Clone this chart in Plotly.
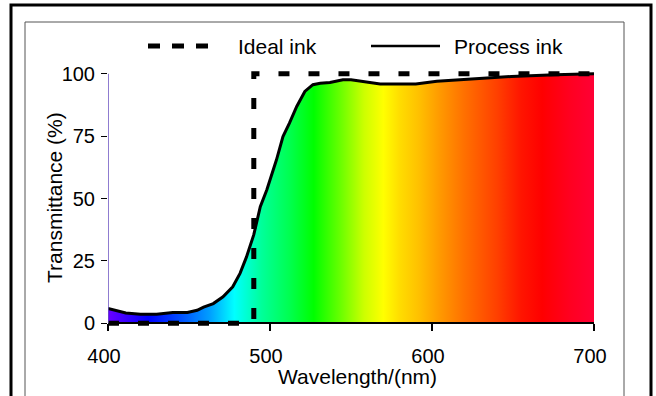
import plotly.graph_objects as go

# ---- data ----
wavelength = [400, 405, 411, 420, 430, 440, 449, 455, 459, 465, 471, 477, 481.5, 485.5,
              490, 494, 498, 504, 508, 512, 516.5, 521.5, 526.5, 531, 537, 545, 550,
              568, 580, 590, 603, 620, 649, 676, 700]
process_ink = [5.9, 5.0, 4.1, 3.6, 3.6, 4.3, 4.3, 5.2, 6.5, 7.9, 10.6, 14.6, 20, 26.6,
               35.5, 46.7, 53.4, 65.5, 74.8, 80.2, 86.9, 92.9, 95.6, 96.2, 96.5, 97.6, 97.6,
               95.9, 95.9, 95.9, 97.0, 97.8, 98.9, 99.6, 100]
ideal_x = [400, 490, 490, 700]
ideal_y = [0, 0, 100, 100]
x_ticks = [400, 500, 600, 700]
y_ticks = [0, 25, 50, 75, 100]
legend_names = ["Ideal ink", "Process ink"]
x_title = "Wavelength/(nm)"
y_title = "Transmittance (%)"

# spectral colour stops (wavelength, colour)
spec_wl = [400, 425, 445, 463, 478, 495, 512, 527, 543, 558, 570, 580, 592, 605, 620, 640, 655, 668, 685, 700]
spec_col = ["#6a00ff", "#0000ff", "#0050ff", "#00a0ff", "#00ffff", "#00ff99", "#00ff50", "#00ff00",
            "#66ff00", "#ccff00", "#ffff00", "#ffdd00", "#ffc000", "#ff9900", "#ff7000", "#ff4000",
            "#ff1500", "#ff0000", "#ff0020", "#ff0035"]
colorscale = [[(w - spec_wl[0]) / (spec_wl[-1] - spec_wl[0]), c] for w, c in zip(spec_wl, spec_col)]

W, H = 656, 396
L, R, T, B = 108, 62, 70, 69
YMIN, YMAX = -1.5, 101.5
pw, ph = W - L - R, H - T - B

def px(x):
    return (x - L) / pw

def py(y):
    return (H - B - y) / ph

FONT = "Arial, Liberation Sans, sans-serif"

fig = go.Figure()
fig.add_trace(go.Scatter(
    x=wavelength, y=process_ink, mode="lines", name=legend_names[1],
    line=dict(color="black", width=3),
    fill="tozeroy",
    fillgradient=dict(type="horizontal", colorscale=colorscale, start=spec_wl[0], stop=spec_wl[-1]),
    showlegend=False, hoverinfo="skip"))
fig.add_trace(go.Scatter(
    x=ideal_x, y=ideal_y, mode="lines", name=legend_names[0],
    line=dict(color="black", width=5, dash="11px,19px"),
    showlegend=False, hoverinfo="skip"))

shapes = [
    # outer frame
    dict(type="rect", xref="paper", yref="paper", x0=px(11), x1=px(651), y0=py(410), y1=py(5),
         line=dict(color="black", width=3), layer="above"),
    # inner frame
    dict(type="rect", xref="paper", yref="paper", x0=px(25), x1=px(624), y0=py(410), y1=py(22),
         line=dict(color="#555555", width=1), layer="above"),
    # y-axis line
    dict(type="line", xref="x", yref="y", x0=400, x1=400, y0=0, y1=100,
         line=dict(color="#6a50c0", width=1.5), layer="above"),
    # legend samples
    dict(type="line", xref="paper", yref="paper", x0=px(148), x1=px(217), y0=py(46), y1=py(46),
         line=dict(color="black", width=5, dash="12px,12px")),
    dict(type="line", xref="paper", yref="paper", x0=px(371), x1=px(440), y0=py(46), y1=py(46),
         line=dict(color="black", width=2.5)),
]
annotations = [
    dict(xref="paper", yref="paper", x=px(236), y=py(46), text=legend_names[0], showarrow=False,
         xanchor="left", yanchor="middle", font=dict(family=FONT, size=21, color="black")),
    dict(xref="paper", yref="paper", x=px(452), y=py(46), text=legend_names[1], showarrow=False,
         xanchor="left", yanchor="middle", font=dict(family=FONT, size=21, color="black")),
    dict(xref="paper", yref="paper", x=px(357), y=py(376), text=x_title, showarrow=False,
         xanchor="center", yanchor="middle", font=dict(family=FONT, size=21, color="black")),
    dict(xref="paper", yref="paper", x=px(54), y=py(198), text=y_title, showarrow=False, textangle=-90,
         xanchor="center", yanchor="middle", font=dict(family=FONT, size=21, color="black")),
]

fig.update_layout(
    width=W, height=H, autosize=False,
    margin=dict(l=L, r=R, t=T, b=B, pad=0),
    paper_bgcolor="white", plot_bgcolor="white",
    font=dict(family=FONT, color="black"),
    shapes=shapes, annotations=annotations,
    xaxis=dict(range=[400, 700], tickvals=x_ticks, ticktext=[str(v) for v in x_ticks],
               anchor="free", position=(0 - YMIN) / (YMAX - YMIN),
               showline=True, linecolor="black", linewidth=2,
               ticks="outside", ticklen=7, tickwidth=2, tickcolor="black",
               ticklabelstandoff=8, ticklabelshift=-4,
               showgrid=False, zeroline=False, tickfont=dict(size=20, family=FONT)),
    xaxis2=dict(range=[400, 700], tickvals=x_ticks, overlaying="x",
                anchor="free", position=(0 - YMIN) / (YMAX - YMIN),
                showline=False, ticks="inside", ticklen=7, tickwidth=2, tickcolor="black",
                showticklabels=False, showgrid=False, zeroline=False),
    yaxis=dict(range=[YMIN, YMAX], tickvals=y_ticks, ticktext=[str(v) for v in y_ticks],
               showline=False, ticks="outside", ticklen=6, tickwidth=1, tickcolor="black",
               ticklabelstandoff=2,
               showgrid=False, zeroline=False, tickfont=dict(size=20, family=FONT)),
)

fig.write_html("out.html", config={"displayModeBar": False, "staticPlot": True},
               post_script="document.body.style.margin='0';document.body.style.overflow='hidden';")
